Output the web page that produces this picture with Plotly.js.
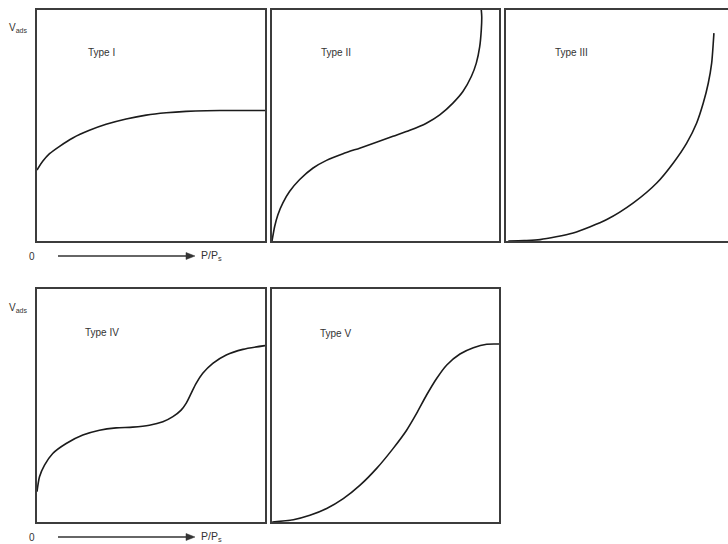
<!DOCTYPE html>
<html>
<head>
<meta charset="utf-8">
<script src="https://cdn.plot.ly/plotly-3.0.1.min.js"></script>
<style>
  html, body { margin: 0; padding: 0; background: #fff; }
  #chart { width: 728px; height: 544px; }
</style>
</head>
<body>
<div id="chart"></div>
<script>
// Adsorption isotherm types (IUPAC): relative pressure P/Ps vs adsorbed volume, normalised 0..1
const panelLabels = ["Type I", "Type II", "Type III", "Type IV", "Type V"];

const typeI_x = [0, 0.025, 0.055, 0.099, 0.157, 0.23, 0.303, 0.391, 0.479, 0.567, 0.654, 0.742, 0.859, 1.0];
const typeI_y = [0.307, 0.345, 0.378, 0.41, 0.446, 0.479, 0.505, 0.528, 0.545, 0.555, 0.561, 0.564, 0.565, 0.565];

const typeII_x = [0, 0.012, 0.026, 0.048, 0.078, 0.122, 0.181, 0.24, 0.313, 0.386, 0.46, 0.533, 0.607, 0.68, 0.739, 0.797, 0.841, 0.878, 0.9, 0.915, 0.922, 0.924, 0.922];
const typeII_y = [0, 0.064, 0.114, 0.165, 0.215, 0.266, 0.316, 0.349, 0.378, 0.402, 0.427, 0.453, 0.479, 0.51, 0.546, 0.597, 0.647, 0.712, 0.77, 0.841, 0.914, 0.971, 1.0];

const typeIII_x = [0.01, 0.08, 0.15, 0.296, 0.444, 0.561, 0.664, 0.737, 0.796, 0.84, 0.869, 0.891, 0.906, 0.913, 0.916];
const typeIII_y = [0, 0.002, 0.006, 0.035, 0.093, 0.165, 0.251, 0.338, 0.424, 0.511, 0.597, 0.683, 0.77, 0.856, 0.9];

const typeIV_x = [0, 0.011, 0.033, 0.069, 0.128, 0.201, 0.274, 0.347, 0.42, 0.493, 0.552, 0.596, 0.632, 0.654, 0.676, 0.698, 0.727, 0.771, 0.83, 0.903, 1.0];
const typeIV_y = [0.13, 0.194, 0.244, 0.294, 0.337, 0.373, 0.394, 0.404, 0.407, 0.415, 0.43, 0.452, 0.48, 0.509, 0.552, 0.595, 0.638, 0.681, 0.717, 0.741, 0.757];

const typeV_x = [0.001, 0.094, 0.167, 0.241, 0.314, 0.388, 0.461, 0.534, 0.593, 0.637, 0.681, 0.726, 0.77, 0.828, 0.887, 0.946, 1.0];
const typeV_y = [0, 0.01, 0.029, 0.058, 0.1, 0.158, 0.23, 0.316, 0.394, 0.466, 0.545, 0.617, 0.674, 0.721, 0.748, 0.763, 0.764];

const axisTitleY = "V<sub>ads</sub>";
const axisTitleX = "P/P<sub>s</sub>";
const originLabel = "0";

// ---- page geometry (pixels) ----
const W = 728, H = 544;
const px = v => v / W;
const py = v => 1 - v / H;

const curveLine = { color: "#1b1b1b", width: 1.6, shape: "spline", smoothing: 0.7 };
const frame = "#3c3c3c";
const ink = "#333";

const series = [
  [typeI_x, typeI_y], [typeII_x, typeII_y], [typeIII_x, typeIII_y],
  [typeIV_x, typeIV_y], [typeV_x, typeV_y]
];

const traces = series.map((s, i) => ({
  type: "scatter", mode: "lines",
  x: s[0], y: s[1],
  xaxis: i === 0 ? "x" : "x" + (i + 1),
  yaxis: i === 0 ? "y" : "y" + (i + 1),
  line: curveLine, hoverinfo: "skip", showlegend: false
}));

// panel boxes: [left, right, top, bottom] in pixels
const boxes = [
  [37, 265, 10, 241],
  [272, 499, 10, 241],
  [506, 728, 10, 241],
  [37, 265, 289, 522],
  [272, 499, 289, 522]
];

function axisPair(i) {
  const b = boxes[i];
  const openRight = i === 2;           // third panel runs off the page edge
  const xr = openRight ? [0, (b[1] - b[0]) / 227] : [0, 1];
  return {
    x: {
      domain: [px(b[0]), px(b[1])], range: xr,
      showgrid: false, zeroline: false, showticklabels: false, ticks: "",
      showline: true, mirror: true, linecolor: frame, linewidth: 2,
      anchor: i === 0 ? "y" : "y" + (i + 1), fixedrange: true
    },
    y: {
      domain: [py(b[3]), py(b[2])], range: [0, 1],
      showgrid: false, zeroline: false, showticklabels: false, ticks: "",
      showline: true, mirror: !openRight, linecolor: frame, linewidth: 2,
      anchor: i === 0 ? "x" : "x" + (i + 1), fixedrange: true
    }
  };
}

const layout = {
  width: W, height: H,
  margin: { l: 0, r: 0, t: 0, b: 0 },
  paper_bgcolor: "#fff", plot_bgcolor: "#fff",
  showlegend: false,
  font: { family: "Arial, 'Liberation Sans', sans-serif", size: 10, color: ink },
  annotations: [],
  shapes: []
};

for (let i = 0; i < 5; i++) {
  const a = axisPair(i);
  const k = i === 0 ? "" : String(i + 1);
  layout["xaxis" + k] = a.x;
  layout["yaxis" + k] = a.y;
}

// panel titles
const labelPos = [[86, 52], [319, 53], [553, 53], [83, 332], [318, 333]];
panelLabels.forEach((t, i) => {
  layout.annotations.push({
    text: t, xref: "paper", yref: "paper",
    x: px(labelPos[i][0]), y: py(labelPos[i][1]),
    xanchor: "left", yanchor: "middle", showarrow: false,
    font: { size: 10, color: ink }
  });
});

// axis captions and pressure arrows for each row
[[28, 256], [308, 537]].forEach(r => {
  const ay = r[1];
  layout.annotations.push(
    { text: axisTitleY, xref: "paper", yref: "paper", x: px(18), y: py(r[0]),
      xanchor: "center", yanchor: "middle", showarrow: false, font: { size: 10, color: ink } },
    { text: originLabel, xref: "paper", yref: "paper", x: px(32), y: py(ay),
      xanchor: "center", yanchor: "middle", showarrow: false, font: { size: 10, color: ink } },
    { text: axisTitleX, xref: "paper", yref: "paper", x: px(199), y: py(ay),
      xanchor: "left", yanchor: "middle", showarrow: false, font: { size: 10.5, color: ink } }
  );
  layout.shapes.push(
    { type: "line", xref: "paper", yref: "paper",
      x0: px(58), x1: px(188), y0: py(ay), y1: py(ay),
      line: { color: ink, width: 1.6 } },
    { type: "path", xref: "paper", yref: "paper",
      path: `M ${px(186)} ${py(ay - 3.5)} L ${px(195)} ${py(ay)} L ${px(186)} ${py(ay + 3.5)} Z`,
      fillcolor: ink, line: { color: ink, width: 0.5 } }
  );
});

Plotly.newPlot("chart", traces, layout, { staticPlot: true, displayModeBar: false });
</script>
</body>
</html>
